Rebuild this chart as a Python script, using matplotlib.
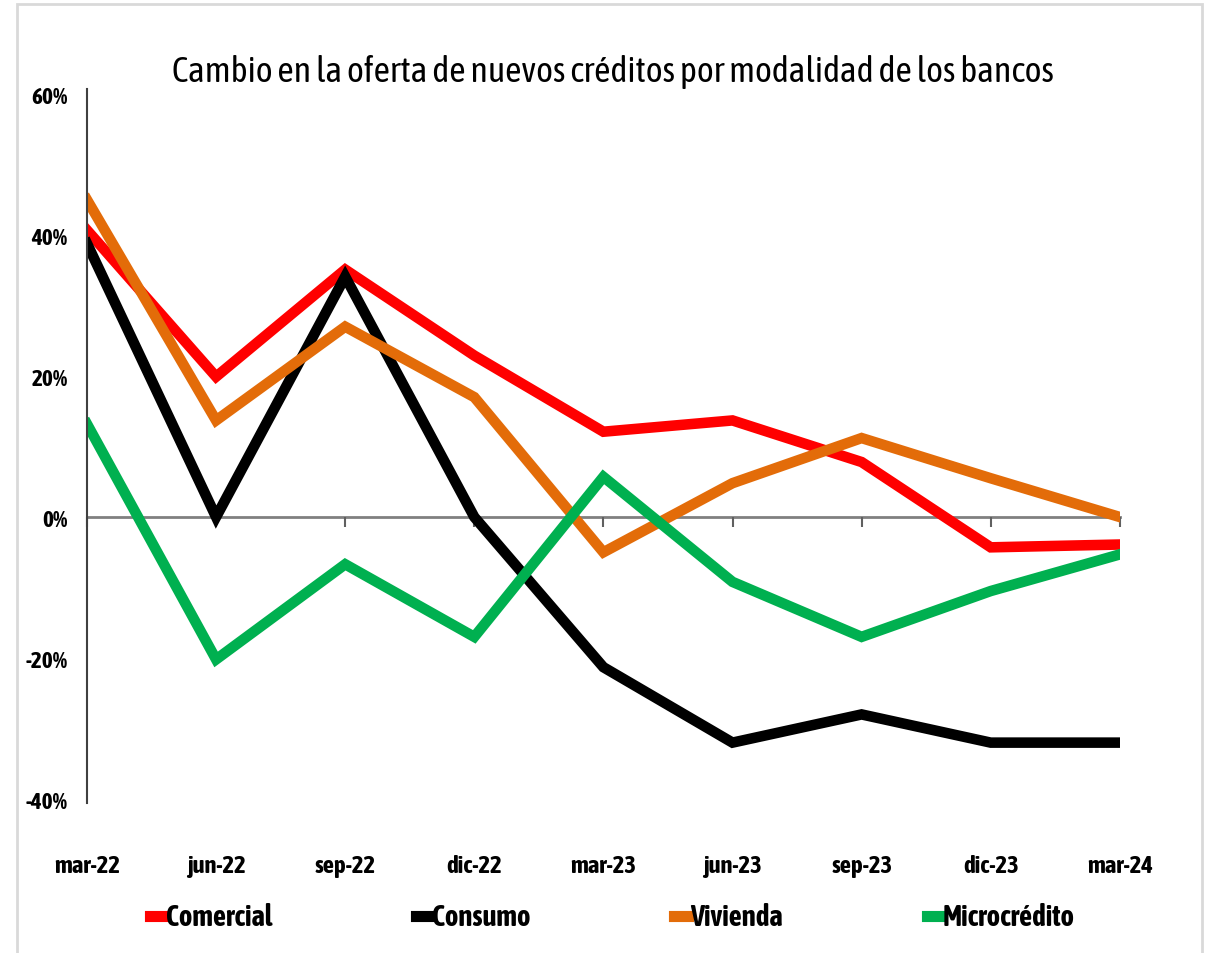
import matplotlib
matplotlib.use("Agg")
import matplotlib.pyplot as plt
from matplotlib import font_manager
from matplotlib.patches import Rectangle
from matplotlib.ticker import FuncFormatter

# use the narrowest installed sans face that also comes in bold
stretch_rank = {"ultra-condensed": 100, "extra-condensed": 200, "condensed": 300,
                "semi-condensed": 400, "normal": 500}


def stretch_value(f):
    s = f.stretch
    return s if isinstance(s, (int, float)) else stretch_rank.get(s, 500)


bold_ok = {(f.name, stretch_value(f)) for f in font_manager.fontManager.ttflist
           if f.weight in ("bold", 700)}
faces = sorted((stretch_value(f), f.name, f.stretch) for f in font_manager.fontManager.ttflist
               if (f.name, stretch_value(f)) in bold_ok and f.style == "normal"
               and "Mono" not in f.name and "Serif" not in f.name and "CJK" not in f.name)
if faces and faces[0][0] < 500:
    plt.rcParams["font.family"] = [faces[0][1], "DejaVu Sans"]
    plt.rcParams["font.stretch"] = faces[0][2]
else:
    plt.rcParams["font.family"] = ["Liberation Sans", "DejaVu Sans"]

# quarterly change in supply of new loans, by loan type (percent)
periods = ["mar-22", "jun-22", "sep-22", "dic-22", "mar-23",
           "jun-23", "sep-23", "dic-23", "mar-24"]
comercial = [40.7, 19.9, 35.1, 22.9, 12.1, 13.7, 7.8, -4.3, -3.9]
consumo = [38.8, 0.0, 34.1, 0.0, -21.3, -32.0, -28.0, -32.0, -32.0]
vivienda = [45.0, 13.7, 27.0, 17.0, -5.0, 4.8, 11.2, 5.5, 0.0]
microcredito = [13.2, -20.2, -6.7, -17.0, 5.7, -9.2, -17.0, -10.5, -5.3]

series = [
    ("Comercial", comercial, "#FF0000"),
    ("Consumo", consumo, "#000000"),
    ("Vivienda", vivienda, "#E36C09"),
    ("Microcrédito", microcredito, "#00B050"),
]

fig = plt.figure(figsize=(12.08, 9.54), dpi=100)
ax = fig.add_axes([0.072, 0.1614, 0.855, 0.739])

x = list(range(len(periods)))
for name, vals, color in series:
    ax.plot(x, vals, color=color, lw=7.6, label=name, solid_joinstyle="miter")

ax.set_xlim(0, len(periods) - 1)
ax.set_ylim(-40, 60)
ax.set_yticks([-40, -20, 0, 20, 40, 60])
ax.yaxis.set_major_formatter(FuncFormatter(lambda v, p: f"{v:.0f}%"))
ax.tick_params(axis="y", length=0, pad=14, labelsize=19)
for lbl in ax.get_yticklabels():
    lbl.set_fontweight("bold")

# category axis sits on the zero line, labels go at the bottom
ax.spines["top"].set_visible(False)
ax.spines["right"].set_visible(False)
ax.spines["left"].set_color("#404040")
ax.spines["left"].set_linewidth(1.5)
ax.spines["left"].set_bounds(-40.5, 60.7)
ax.spines["bottom"].set_position(("data", 0))
ax.spines["bottom"].set_color("#808080")
ax.spines["bottom"].set_linewidth(2)
ax.spines["bottom"].set_zorder(1)
ax.set_xticks(x)
ax.set_xticklabels([])
ax.tick_params(axis="x", direction="out", length=7, width=1.5, color="#606060")
for s in ax.spines.values():
    s.set_clip_on(False)

xlabels = []
for i, p in enumerate(periods):
    xlabels.append(ax.text(i, -0.094, p, transform=ax.get_xaxis_transform(), ha="center",
                           va="center", fontsize=17.5, fontweight="bold"))

title = fig.text(0.507, 0.925, "Cambio en la oferta de nuevos créditos por modalidad de los bancos",
                 ha="center", va="center", fontsize=26)

leg = fig.legend(loc="center", bbox_to_anchor=(0.507, 0.038), ncol=4, frameon=False,
                 handlelength=0.5, handletextpad=0.1, columnspacing=5.3,
                 prop={"size": 19.5, "weight": "bold"})
for h in leg.get_lines():
    h.set_linewidth(8)


def fit_width(texts, target_px):
    # scale font size so the first text spans target_px pixels
    renderer = fig.canvas.get_renderer()
    w = texts[0].get_window_extent(renderer).width
    size = texts[0].get_fontsize() * target_px / w
    for t in texts:
        t.set_fontsize(size)
    return size


fig.canvas.draw()
fit_width([title], 885)
fit_width(xlabels, 66)
ysize = fit_width([ax.get_yticklabels()[-1]], 36)
ax.tick_params(axis="y", labelsize=ysize)
fit_width(leg.get_texts(), 107)

# light outer frame around the chart
fig.patches.append(Rectangle((17 / 1208, -0.01), 1185 / 1208, 1 - 5 / 954 + 0.01,
                             transform=fig.transFigure, fill=False,
                             edgecolor="#D9D9D9", lw=2))

fig.savefig("out.png", dpi=100)
